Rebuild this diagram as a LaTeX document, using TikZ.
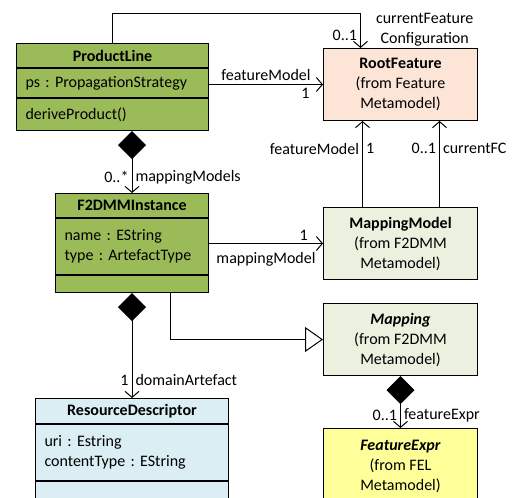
\documentclass[tikz,border=0pt]{standalone}
\usepackage{fontspec}
\setmainfont{Carlito}
\usetikzlibrary{arrows.meta,positioning,calc}
\definecolor{plgreen}{RGB}{155,187,89}
\definecolor{rootpeach}{RGB}{252,228,214}
\definecolor{fdgreen}{RGB}{235,241,222}
\definecolor{rdblue}{RGB}{218,238,243}
\definecolor{felyellow}{RGB}{255,255,153}
\newcommand{\umlfont}{\fontsize{16}{20}\selectfont\frenchspacing}
\tikzset{
  hdr/.style={draw=black,line width=1pt,anchor=north west,inner xsep=0pt,
              font=\umlfont\bfseries,align=center},
  cmp/.style={draw=black,line width=1pt,anchor=north west,inner xsep=9pt,
              inner ysep=0pt,align=left,font=\umlfont},
  ext/.style={draw=black,line width=1pt,anchor=north west,align=center,
              font=\umlfont,minimum width=154pt,minimum height=72pt},
  assoc/.style={-{Straight Barb[length=6pt,width=14pt]},line width=1pt},
  comp/.style={{Diamond[length=28pt,width=28pt]}-{Straight Barb[length=6pt,width=14pt]},line width=1pt},
  gen/.style={-{Triangle[open,length=18pt,width=25pt,fill=white]},line width=1pt},
  mult/.style={font=\umlfont,inner sep=3pt},
}
\begin{document}
\begin{tikzpicture}[x=1pt,y=-1pt]
  \useasboundingbox (0,0) rectangle (520,498);
  \clip (0,0) rectangle (520,498);

  % classes of the left column
  \node[hdr,fill=plgreen,minimum width=192pt,minimum height=24pt] (plhead) at (16,43) {ProductLine};
  \node[cmp,fill=plgreen,text width=174pt,minimum height=29pt] (plattr) at (plhead.south west) {ps : PropagationStrategy};
  \node[cmp,fill=plgreen,text width=174pt,minimum height=32pt] (plop) at (plattr.south west) {deriveProduct()};

  \node[hdr,fill=plgreen,minimum width=153pt,minimum height=24pt] (fihead) at (55,193) {F2DMMInstance};
  \node[cmp,fill=plgreen,text width=135pt,minimum height=56pt] (fiattr) at (fihead.south west) {name : EString\\type : ArtefactType};
  \node[cmp,fill=plgreen,text width=135pt,minimum height=17pt] (fiempty) at (fiattr.south west) {};

  \node[hdr,fill=rdblue,minimum width=193pt,minimum height=25pt] (rdhead) at (35,398) {ResourceDescriptor};
  \node[cmp,fill=rdblue,text width=175pt,minimum height=56pt] (rdattr) at (rdhead.south west) {uri : Estring\\contentType : EString};
  \node[cmp,fill=rdblue,text width=175pt,minimum height=30pt] (rdempty) at (rdattr.south west) {};

  % classes from other metamodels
  \node[ext,fill=rootpeach] (root) at (323,48) {\textbf{RootFeature}\\(from Feature\\Metamodel)};
  \node[ext,fill=fdgreen] (mm) at (323,207) {\textbf{MappingModel}\\(from F2DMM\\Metamodel)};
  \node[ext,fill=fdgreen] (map) at (323,303) {\textbf{\textit{Mapping}}\\(from F2DMM\\Metamodel)};
  \node[ext,fill=felyellow,minimum height=76pt] (fe) at (323,428) {\textbf{\textit{FeatureExpr}}\\(from FEL\\Metamodel)};

  % associations
  \draw[assoc] (plhead.north) |- ([xshift=-40pt,yshift=35pt]root.north)
        -- node[mult,left,pos=0.63]{0..1}
           node[mult,right,align=center,xshift=12pt,pos=0.48]{currentFeature\\Configuration}
        ([xshift=-40pt]root.north);
  \draw[assoc] (plattr.east |- root.west)
        -- node[mult,above,pos=0.5]{featureModel}
           node[mult,anchor=north east,xshift=-10pt,pos=1]{1} (root.west);
  \draw[comp] (fihead.north |- plop.south)
        -- node[mult,left,pos=0.74]{0..*}
           node[mult,right,pos=0.74]{mappingModels} (fihead.north);
  \draw[assoc] (fiattr.east |- mm.west)
        -- node[mult,above,pos=0.83]{1}
           node[mult,below,yshift=-5pt,pos=0.5]{mappingModel} (mm.west);
  \draw[assoc] ([xshift=-38pt]mm.north)
        -- node[mult,left,pos=0.68]{featureModel}
           node[mult,right,pos=0.68]{1} ([xshift=-38pt]root.south);
  \draw[assoc] ([xshift=39pt]mm.north)
        -- node[mult,left,pos=0.68]{0..1}
           node[mult,right,pos=0.68]{currentFC} ([xshift=39pt]root.south);
  \draw[gen] ([xshift=38.5pt]fiempty.south) |- (map.west);
  \draw[comp] (fiempty.south)
        -- node[mult,left,pos=0.83]{1}
           node[mult,right,pos=0.83]{domainArtefact} (rdhead.north);
  \draw[comp] (map.south)
        -- node[mult,left,pos=0.75]{0..1}
           node[mult,right,pos=0.75]{featureExpr} (fe.north);
\end{tikzpicture}
\end{document}
